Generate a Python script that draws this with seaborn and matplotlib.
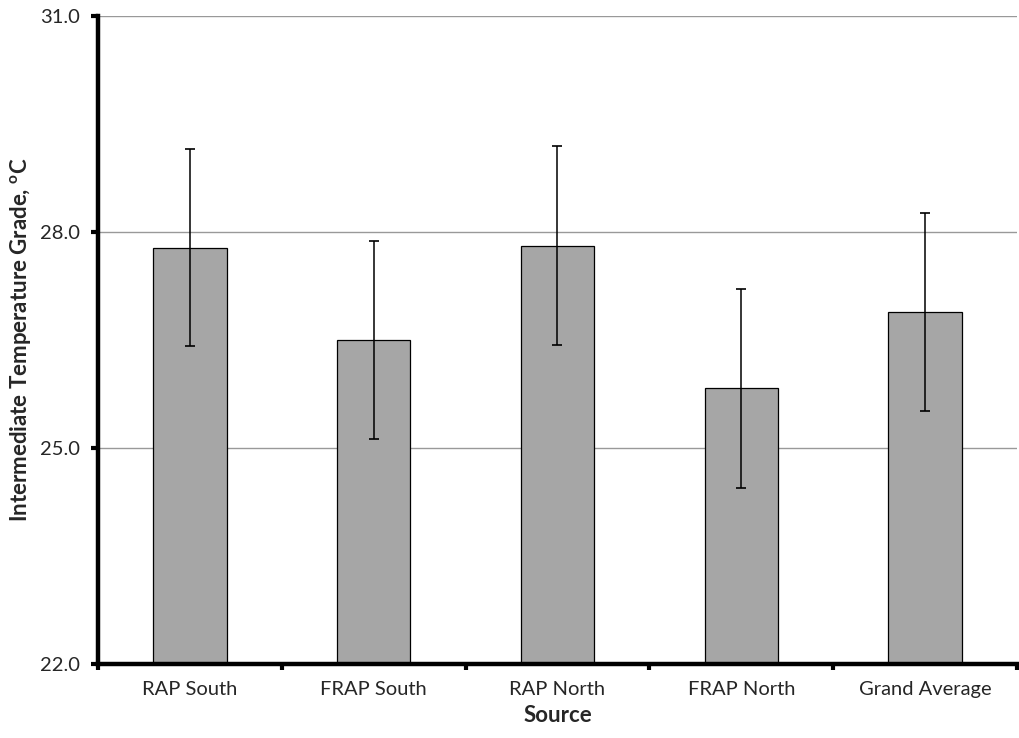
import matplotlib
matplotlib.use("Agg")
import matplotlib.pyplot as plt
import seaborn as sns
import pandas as pd
import numpy as np

categories = ["RAP South", "FRAP South", "RAP North", "FRAP North", "Grand Average"]
means = [27.78, 26.50, 27.81, 25.83, 26.89]
errors = [1.37, 1.375, 1.38, 1.38, 1.38]
yticks = [22.0, 25.0, 28.0, 31.0]

sns.set_style("white")
plt.rcParams['font.family'] = ['Lato', 'DejaVu Sans']

df = pd.DataFrame({"Source": categories, "Value": means})

fig = plt.figure(figsize=(10.2, 7.38), dpi=100)
ax = fig.add_axes([0.0961, 0.1003, 0.9009, 0.878])

sns.barplot(data=df, x="Source", y="Value", color="#A6A6A6", width=0.4,
            edgecolor="black", linewidth=0.9, saturation=1, ax=ax, zorder=2)
ax.errorbar(np.arange(len(categories)), means, yerr=errors, fmt="none",
            ecolor="black", elinewidth=1.1, capsize=3.5, capthick=1.2, zorder=3)

ax.set_ylim(22, 31)
ax.set_xlim(-0.5, len(categories) - 0.5)
ax.set_yticks(yticks)
ax.set_yticklabels([f"{v:.1f}" for v in yticks], fontsize=14.5)
for v in yticks[1:]:
    ax.axhline(v, color="#999999", linewidth=1.0, zorder=1)

ax.set_xticks(np.arange(len(categories)))
ax.set_xticklabels(categories, fontsize=14.5)
ax.set_xticks(np.arange(len(categories) + 1) - 0.5, minor=True)
ax.tick_params(axis="x", which="major", bottom=False, length=0, pad=12)
ax.tick_params(axis="x", which="minor", bottom=True, length=4, width=3, color="black", direction="out")
ax.tick_params(axis="y", which="major", left=True, length=5, width=3, color="black", direction="out", pad=8)

for s in ["top", "right"]:
    ax.spines[s].set_visible(False)
for s in ["left", "bottom"]:
    ax.spines[s].set_linewidth(3.2)
    ax.spines[s].set_color("black")

ax.set_xlabel("Source", fontsize=16, fontweight="bold", labelpad=5)
ax.set_ylabel("Intermediate Temperature Grade, $^{\\mathregular{o}}$C", fontsize=16, fontweight="bold", labelpad=5)

fig.savefig("out.png", dpi=100)
